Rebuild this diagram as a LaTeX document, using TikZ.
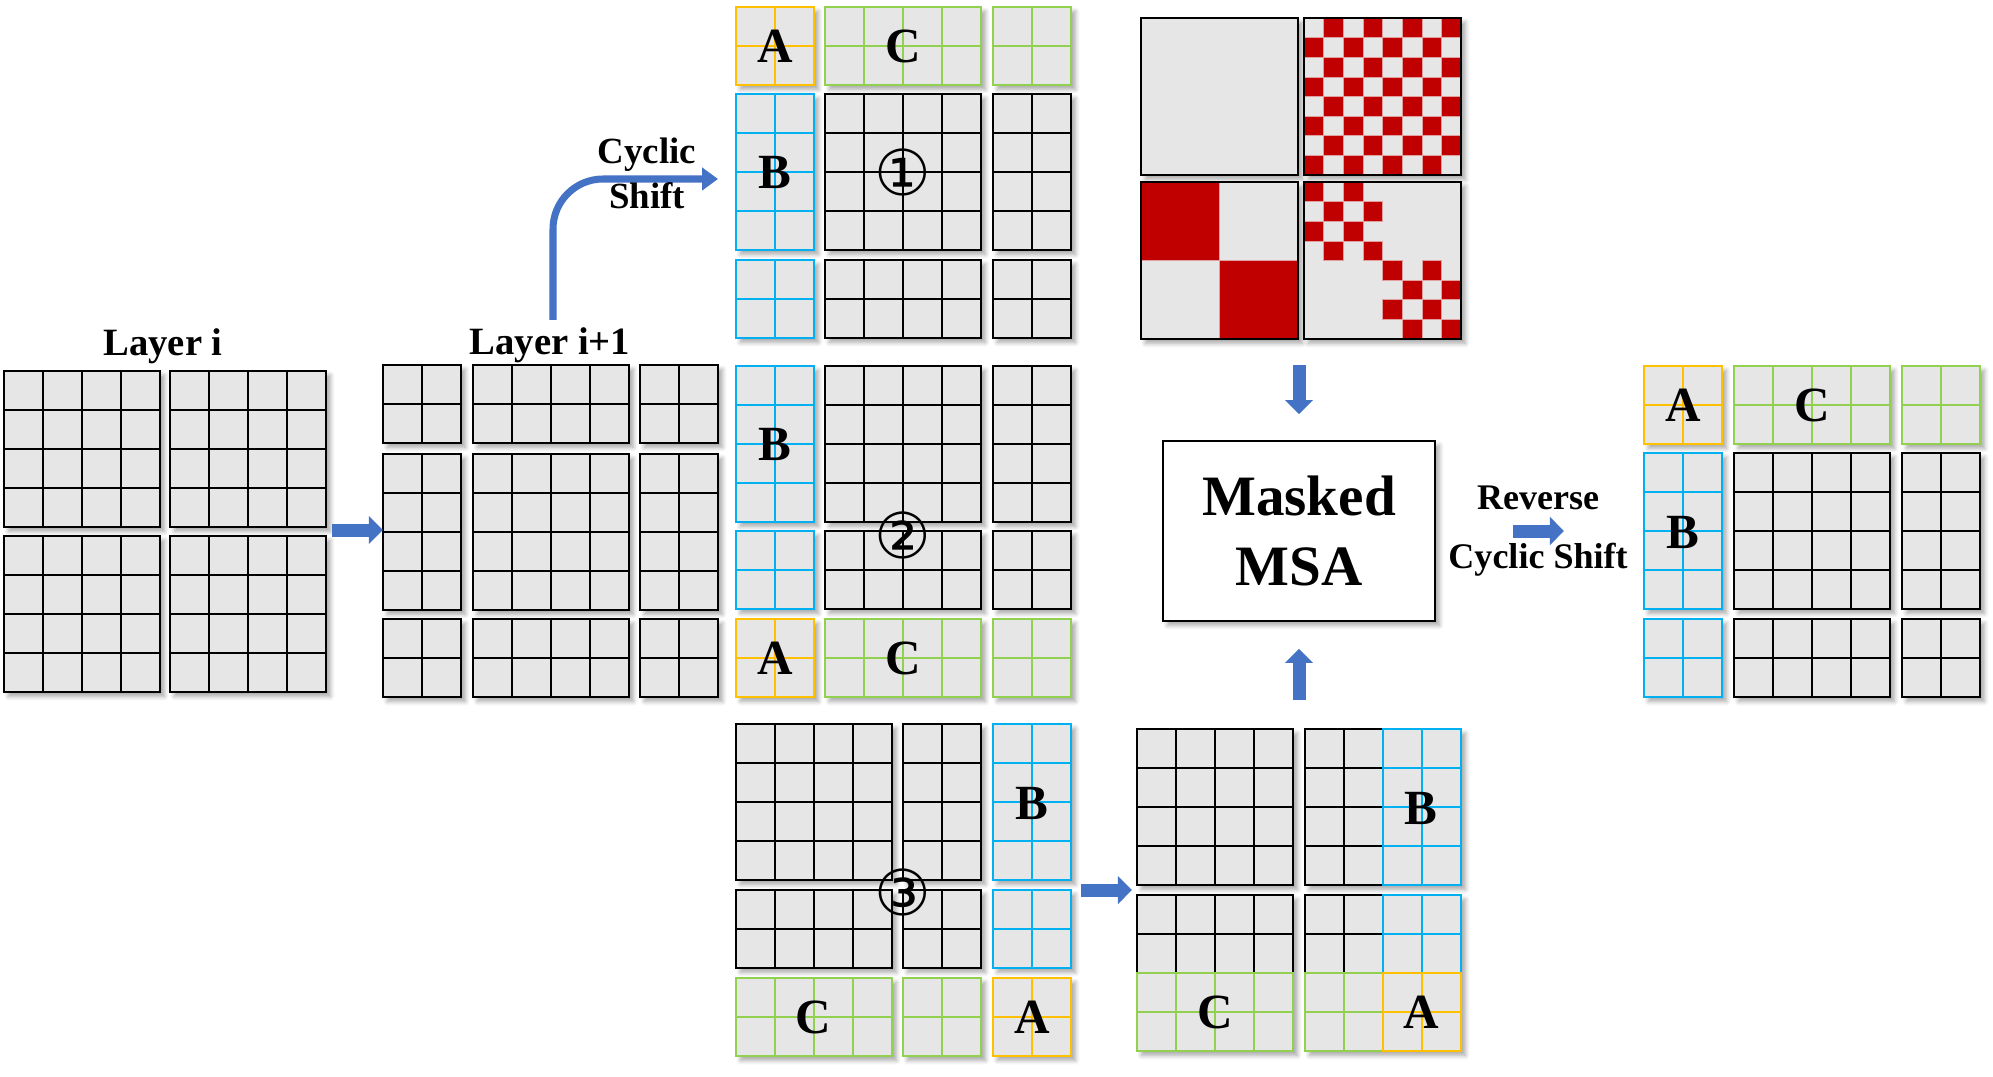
\documentclass[tikz,border=0pt]{standalone}
\usepackage{fontspec}
\setmainfont{Liberation Serif}
\newfontfamily\dejavu{DejaVu Sans}
\usetikzlibrary{arrows.meta}
\usetikzlibrary{calc}
\usetikzlibrary{shadows.blur}

\definecolor{cellfill}{HTML}{E6E6E6}
\definecolor{aorange}{HTML}{FFC000}
\definecolor{bblue}{HTML}{00B0F0}
\definecolor{cgreen}{HTML}{92D050}
\definecolor{arrowblue}{HTML}{4472C4}
\definecolor{maskred}{HTML}{C00000}
\definecolor{maskedge}{HTML}{E0A0A0}

\tikzset{
  gridline/.style={line width=0.7pt, line cap=rect},
  maskline/.style={line width=1.4pt},
  blockshadow/.style={blur shadow={shadow xshift=2.5pt, shadow yshift=-2.5pt,
      shadow blur radius=2.5pt, shadow blur steps=6, shadow opacity=35}},
  blockarrow/.style={arrowblue, line width=7.4pt, -{Triangle[length=8pt, width=15.5pt]}},
  bendarrow/.style={arrowblue, line width=4pt, rounded corners=1cm, -{Triangle[length=9pt, width=12.5pt]}},
  letter/.style={font=\bfseries\fontsize{28}{28}\selectfont},
  circnum/.style={font=\dejavu\fontsize{36}{36}\selectfont},
  layerlbl/.style={font=\bfseries\fontsize{22}{26}\selectfont, anchor=base},
  shiftlbl/.style={font=\bfseries\fontsize{21}{25.5}\selectfont, align=center},
}

% one block: shadow + grey fill, then the cell lines
\newcommand\shbox[4]{\fill[cellfill,blockshadow] ({#1},{#2}) rectangle ++({39*#3},{39*#4});}
\newcommand\cells[5]{%
  \foreach \i in {0,...,#3} \draw[gridline,#5] ({#1+39*\i},{#2}) -- ++(0,{39*#4});
  \foreach \j in {0,...,#4} \draw[gridline,#5] ({#1},{#2+39*\j}) -- ++({39*#3},0);
}
\newcommand\blk[5]{\shbox{#1}{#2}{#3}{#4}\cells{#1}{#2}{#3}{#4}{#5}}
\newcommand\redcell[2]{\filldraw[maskred, draw=maskedge, line width=0.3pt] ({#1},{#2}) rectangle ++(19.625,19.625);}

\begin{document}
\begin{tikzpicture}[x=0.02cm, y=-0.02cm]
\useasboundingbox (0,0) rectangle (1993,1077);

% layer i
\foreach \xc in {4,170} \foreach \yr in {371,536} {\blk{\xc}{\yr}{4}{4}{black}}
\node[layerlbl] (layeri) at (163,356) {Layer i};

% layer i+1
\foreach \xc/\nc in {383/2,473/4,640/2} \foreach \yr/\nr in {365/2,454/4,619/2} {
  \blk{\xc}{\yr}{\nc}{\nr}{black}
}
\node[layerlbl] (layerip) at (550,355) {Layer i+1};

% shift 1
\blk{736}{7}{2}{2}{aorange} \blk{825}{7}{4}{2}{cgreen} \blk{993}{7}{2}{2}{cgreen}
\blk{736}{94}{2}{4}{bblue} \blk{825}{94}{4}{4}{black} \blk{993}{94}{2}{4}{black}
\blk{736}{260}{2}{2}{bblue} \blk{825}{260}{4}{2}{black} \blk{993}{260}{2}{2}{black}
\node[letter] (a1) at (775,46) {A};
\node[letter] (c1) at (903,46) {C};
\node[letter] (b1) at (775,172) {B};
\node[circnum] (n1) at (903,172) {①};

% shift 2
\blk{736}{366}{2}{4}{bblue} \blk{825}{366}{4}{4}{black} \blk{993}{366}{2}{4}{black}
\blk{736}{531}{2}{2}{bblue} \blk{825}{531}{4}{2}{black} \blk{993}{531}{2}{2}{black}
\blk{736}{619}{2}{2}{aorange} \blk{825}{619}{4}{2}{cgreen} \blk{993}{619}{2}{2}{cgreen}
\node[letter] (b2) at (775,444) {B};
\node[circnum] (n2) at (903,535) {②};
\node[letter] (a2) at (775,658) {A};
\node[letter] (c2) at (903,658) {C};

% shift 3
\blk{736}{724}{4}{4}{black} \blk{903}{724}{2}{4}{black} \blk{993}{724}{2}{4}{bblue}
\blk{736}{890}{4}{2}{black} \blk{903}{890}{2}{2}{black} \blk{993}{890}{2}{2}{bblue}
\blk{736}{978}{4}{2}{cgreen} \blk{903}{978}{2}{2}{cgreen} \blk{993}{978}{2}{2}{aorange}
\node[letter] (b3) at (1032,803) {B};
\node[circnum] (n3) at (903,892) {③};
\node[letter] (c3) at (813,1017) {C};
\node[letter] (a3) at (1032,1017) {A};

% merged windows
\foreach \xc in {1137,1305} \foreach \yr in {729,895} {\shbox{\xc}{\yr}{4}{4}}
\cells{1137}{729}{4}{4}{black}
\cells{1305}{729}{2}{4}{black} \cells{1383}{729}{2}{4}{bblue}
\cells{1137}{895}{4}{2}{black} \cells{1137}{973}{4}{2}{cgreen}
\cells{1305}{895}{2}{2}{black} \cells{1305}{973}{2}{2}{cgreen}
\cells{1383}{895}{2}{2}{bblue} \cells{1383}{973}{2}{2}{aorange}
\node[letter] (b4) at (1421,808) {B};
\node[letter] (c4) at (1215,1012) {C};
\node[letter] (a4) at (1421,1012) {A};

% masks
\foreach \xc in {1141,1304} \foreach \yr in {18,182} {
  \fill[cellfill,blockshadow] (\xc,\yr) rectangle ++(157,157);
}
\foreach \r in {0,...,7} \foreach \cl in {0,...,7} {
  \ifodd\numexpr\r+\cl\relax \redcell{1304+19.625*\cl}{18+19.625*\r} \fi
}
\filldraw[maskred, draw=maskedge, line width=0.3pt] (1141,182) rectangle ++(78.5,78.5);
\filldraw[maskred, draw=maskedge, line width=0.3pt] (1219.5,260.5) rectangle ++(78.5,78.5);
\foreach \q in {0,4} \foreach \r in {0,...,3} \foreach \cl in {0,...,3} {
  \ifodd\numexpr\r+\cl\relax\else \redcell{1304+19.625*(\q+\cl)}{182+19.625*(\q+\r)} \fi
}
\foreach \xc in {1141,1304} \foreach \yr in {18,182} {
  \draw[maskline] (\xc,\yr) rectangle ++(157,157);
}

% masked msa
\node[draw, fill=white, line width=1.1pt, minimum width=5.44cm, minimum height=3.6cm,
  align=center, font=\bfseries\fontsize{32.5}{39.7}\selectfont, blockshadow] (msa) at (1299,531) {Masked\\MSA};

% result
\blk{1644}{366}{2}{2}{aorange} \blk{1734}{366}{4}{2}{cgreen} \blk{1902}{366}{2}{2}{cgreen}
\blk{1644}{453}{2}{4}{bblue} \blk{1734}{453}{4}{4}{black} \blk{1902}{453}{2}{4}{black}
\blk{1644}{619}{2}{2}{bblue} \blk{1734}{619}{4}{2}{black} \blk{1902}{619}{2}{2}{black}
\node[letter] (a5) at (1683,405) {A};
\node[letter] (c5) at (1812,405) {C};
\node[letter] (b5) at (1683,532) {B};

% arrows
\coordinate (li-out) at (332,530);
\coordinate (lip-in) at (383,530);
\coordinate (lip-up) at (553,320);
\coordinate (s1-in) at (718,179);
\coordinate (s3-out) at (1081,890);
\coordinate (mg-in) at (1132,890);
\coordinate (mk-out) at (1299,365);
\coordinate (mg-out) at (1299,700);
\coordinate (rv-out) at (1513,531);
\coordinate (rv-in) at (1564,531);
\draw[blockarrow] (li-out) -- (lip-in);
\draw[bendarrow] (lip-up) |- (s1-in);
\draw[blockarrow] (s3-out) -- (mg-in);
\draw[blockarrow] (mk-out) -- ([yshift=14.7pt]msa.north);
\draw[blockarrow] (mg-out) -- ([yshift=-15.3pt]msa.south);
\draw[blockarrow] (rv-out) -- (rv-in);

\node[shiftlbl] (cyc) at (647,173) {Cyclic\\Shift};
\node[shiftlbl, font=\bfseries\fontsize{20.5}{33.5}\selectfont] (rev) at (1538,531) {Reverse\\Cyclic Shift};
\end{tikzpicture}
\end{document}
